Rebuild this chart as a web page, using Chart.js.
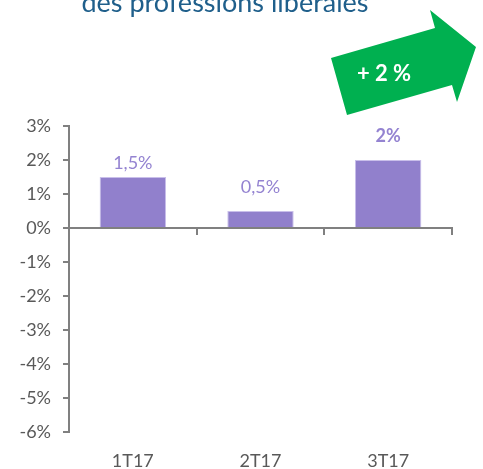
<!DOCTYPE html>
<html>
<head>
<meta charset="utf-8">
<script src="https://cdn.jsdelivr.net/npm/chart.js@4"></script>
<style>
    html, body { margin: 0; padding: 0; background: #ffffff; }
    #wrap { position: relative; width: 483px; height: 469px; }
</style>
</head>
<body>
<div id="wrap"><canvas id="myChart" width="483" height="469"></canvas></div>
<script>
const categories = ['1T17', '2T17', '3T17'];
const values = [1.5, 0.5, 2];
const valueLabels = ['1,5%', '0,5%', '2%'];
const yMin = -6;
const yMax = 3;
const titleText = 'des professions libérales';
const arrowText = '+ 2 %';

const barColor = '#9180CC';
const axisColor = '#808080';
const textColor = '#595959';
const labelColor = '#9483D1';

// titre coupe en haut + fleche verte
const decoPlugin =
{
    id: 'deco',
    afterDraw: (chart) =>
    {
        const ctx = chart.ctx;
        ctx.save();
        ctx.fillStyle = '#1F5F8B';
        ctx.font = '27px Lato';
        ctx.textAlign = 'center';
        ctx.textBaseline = 'alphabetic';
        ctx.fillText(titleText, 225, 12);

        ctx.fillStyle = '#00B050';
        ctx.beginPath();
        ctx.moveTo(331, 58);
        ctx.lineTo(435, 28);
        ctx.lineTo(430, 10);
        ctx.lineTo(476, 47);
        ctx.lineTo(457, 102);
        ctx.lineTo(452, 85);
        ctx.lineTo(347, 115);
        ctx.closePath();
        ctx.fill();

        ctx.fillStyle = '#ffffff';
        ctx.font = 'bold 22px Lato';
        ctx.textBaseline = 'middle';
        ctx.fillText(arrowText, 384, 74);
        ctx.restore();
    }
};

// etiquettes au-dessus des barres
const labelPlugin =
{
    id: 'barLabels',
    afterDatasetsDraw: (chart) =>
    {
        const ctx = chart.ctx;
        const meta = chart.getDatasetMeta(0);
        const offsets = [14, 24, 24];
        ctx.save();
        ctx.fillStyle = labelColor;
        ctx.textAlign = 'center';
        ctx.textBaseline = 'middle';
        meta.data.forEach((bar, i) =>
        {
            ctx.font = (i === 2 ? 'bold ' : '') + '18px Lato';
            ctx.fillText(valueLabels[i], bar.x, bar.y - offsets[i]);
        });
        ctx.restore();
    }
};

var ctx = document.getElementById('myChart');

new Chart(ctx,
{
    type: 'bar',
    data:
    {
        labels: categories,
        datasets:
        [
            {
                data: values,
                backgroundColor: barColor,
                borderColor: '#C9BFEA',
                borderWidth: 1,
                barPercentage: 0.52,
                categoryPercentage: 1
            }
        ]
    },
    options:
    {
        responsive: false,
        animation: false,
        layout:
        {
            padding: { top: 126, right: 31, bottom: 0, left: 0 }
        },
        plugins:
        {
            legend: { display: false },
            tooltip: { enabled: false }
        },
        scales:
        {
            x:
            {
                position: 'bottom',
                afterFit: (scale) => { scale.height = 37; },
                grid: { display: false },
                border: { display: false },
                ticks:
                {
                    color: textColor,
                    font: { family: 'Lato', size: 18 },
                    padding: 10
                }
            },
            x0:
            {
                type: 'category',
                labels: categories,
                position: { y: 0 },
                offset: true,
                afterFit: (scale) => { scale.height = 0; },
                grid:
                {
                    drawOnChartArea: false,
                    drawTicks: true,
                    tickLength: 6,
                    offset: true,
                    color: axisColor,
                    lineWidth: 2
                },
                border: { display: true, color: axisColor, width: 2 },
                ticks: { display: false }
            },
            y:
            {
                min: yMin,
                max: yMax,
                afterFit: (scale) => { scale.width = 69; },
                grid:
                {
                    drawOnChartArea: false,
                    tickLength: 6,
                    color: axisColor,
                    lineWidth: 2
                },
                border: { display: true, color: axisColor, width: 2 },
                ticks:
                {
                    stepSize: 1,
                    color: textColor,
                    padding: 12,
                    font: { family: 'Lato', size: 18 },
                    callback: (v) => v + '%'
                }
            }
        }
    },
    plugins: [decoPlugin, labelPlugin]
});
</script>
</body>
</html>
